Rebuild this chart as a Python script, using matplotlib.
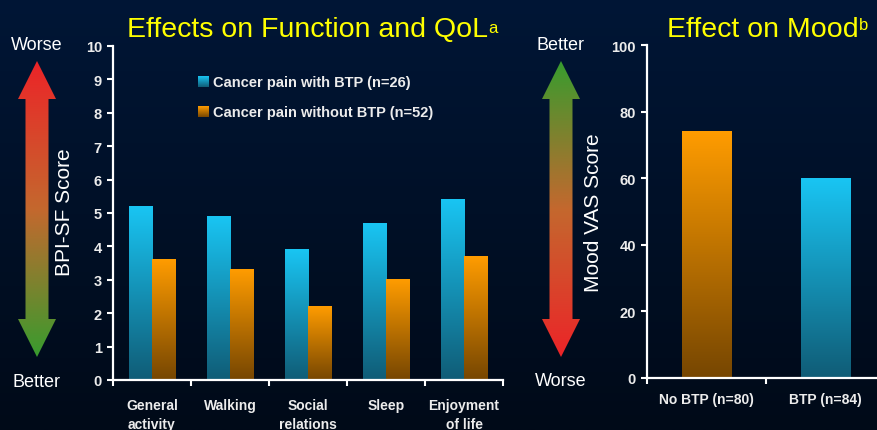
import numpy as np
import matplotlib
matplotlib.use("Agg")
import matplotlib.pyplot as plt
from matplotlib.patches import Polygon

plt.rcParams['font.family'] = ['Liberation Sans', 'DejaVu Sans']

# BPI-SF interference scores by domain
domains = ['General\nactivity', 'Walking', 'Social\nrelations', 'Sleep', 'Enjoyment\nof life']
with_btp = [5.2, 4.9, 3.9, 4.7, 5.4]
without_btp = [3.6, 3.3, 2.2, 3.0, 3.7]
legend_labels = ['Cancer pain with BTP (n=26)', 'Cancer pain without BTP (n=52)']

# Mood VAS scores
mood_groups = ['No BTP (n=80)', 'BTP (n=84)']
mood_scores = [74, 60]

CYAN_TOP = np.array([25, 197, 243]) / 255
CYAN_BOT = np.array([16, 92, 118]) / 255
ORANGE_TOP = np.array([255, 156, 0]) / 255
ORANGE_BOT = np.array([118, 70, 2]) / 255
TXT = '#ececec'

W, H = 878, 431
fig = plt.figure(figsize=(W / 100, H / 100), dpi=100)

# full-figure canvas in pixel units for background, arrows and free text
bg = fig.add_axes([0, 0, 1, 1])
bg.set_xlim(0, W)
bg.set_ylim(H, 0)
bg.axis('off')
top_c = np.array([0, 22, 54]) / 255
bot_c = np.array([0, 10, 24]) / 255
t = np.linspace(0, 1, 256)[:, None, None]
bg.imshow(top_c + (bot_c - top_c) * t, extent=(0, W, H, 0), aspect='auto', zorder=0)


def vgrad(c_top, c_bot, n=256):
    s = np.linspace(0, 1, n)[:, None, None]
    return c_top + (c_bot - c_top) * s


def three_stop(c0, c1, c2, n=256):
    s = np.linspace(0, 1, n)
    out = np.empty((n, 1, 3))
    for i, v in enumerate(s):
        if v < 0.5:
            out[i, 0] = c0 + (c1 - c0) * (v / 0.5)
        else:
            out[i, 0] = c1 + (c2 - c1) * ((v - 0.5) / 0.5)
    return out


def double_arrow(cx, y_top, y_bot, colors):
    hw, sw, hl = 19, 11.5, 38
    pts = [(cx, y_top), (cx + hw, y_top + hl), (cx + sw, y_top + hl),
           (cx + sw, y_bot - hl), (cx + hw, y_bot - hl), (cx, y_bot),
           (cx - hw, y_bot - hl), (cx - sw, y_bot - hl), (cx - sw, y_top + hl),
           (cx - hw, y_top + hl)]
    poly = Polygon(pts, closed=True, facecolor='none', edgecolor='none')
    bg.add_patch(poly)
    im = bg.imshow(colors, extent=(cx - hw, cx + hw, y_bot, y_top),
                   aspect='auto', zorder=1)
    im.set_clip_path(poly)


red = np.array([236, 36, 40]) / 255
mid = np.array([196, 104, 46]) / 255
green = np.array([56, 156, 46]) / 255

double_arrow(37, 62, 358, three_stop(red, mid, green))
double_arrow(561, 62, 358, three_stop(green, mid, red))

for x, y, s in [(37, 46, 'Worse'), (37, 383, 'Better'), (561, 46, 'Better'), (561, 382, 'Worse')]:
    bg.text(x, y, s, color='white', fontsize=13, ha='center', va='center')

bg.text(65, 212, 'BPI-SF Score', color='white', fontsize=15, rotation=90,
        ha='center', va='center')
bg.text(594, 213, 'Mood VAS Score', color='white', fontsize=15, rotation=90,
        ha='center', va='center')

t1 = bg.text(127, 37, 'Effects on Function and QoL', color='#ffff00',
             fontsize=20.5, ha='left', va='baseline')
bg.annotate('a', xy=(1, 1), xycoords=t1, xytext=(0, -3), textcoords='offset points',
            color='#ffff00', fontsize=12, ha='left', va='top')
t2 = bg.text(667, 37, 'Effect on Mood', color='#ffff00',
             fontsize=20.5, ha='left', va='baseline')
bg.annotate('b', xy=(1, 1), xycoords=t2, xytext=(0, -1), textcoords='offset points',
            color='#ffff00', fontsize=12, ha='left', va='top')


def style_axes(ax, yticks):
    ax.set_facecolor('none')
    for side in ['top', 'right']:
        ax.spines[side].set_visible(False)
    for side in ['left', 'bottom']:
        ax.spines[side].set_color('white')
        ax.spines[side].set_linewidth(1.6)
    ax.set_yticks(yticks)
    ax.set_yticklabels([str(v) for v in yticks], fontweight='bold')
    ax.tick_params(axis='both', which='major', colors='white', width=1.5,
                   length=4.5, direction='out')
    ax.tick_params(axis='y', labelcolor=TXT, labelsize=10.5, pad=3.5)
    ax.tick_params(axis='x', which='major', labelbottom=False)
    ax.tick_params(axis='x', which='minor', length=0, labelcolor=TXT,
                   labelsize=10, pad=13)


def gradient_bars(ax, bars, c_top, c_bot):
    for b in bars:
        x0, w, h = b.get_x(), b.get_width(), b.get_height()
        ax.imshow(vgrad(c_top, c_bot), extent=(x0, x0 + w, 0, h),
                  aspect='auto', zorder=2)
        b.set_visible(False)


# left panel: BPI-SF interference
ax1 = fig.add_axes([113 / W, 1 - 381 / H, 390 / W, 334 / H])
idx = np.arange(len(domains))
bw = 0.295
b_with = ax1.bar(idx + 0.5 - bw / 2, with_btp, bw)
b_without = ax1.bar(idx + 0.5 + bw / 2, without_btp, bw)
gradient_bars(ax1, b_with, CYAN_TOP, CYAN_BOT)
gradient_bars(ax1, b_without, ORANGE_TOP, ORANGE_BOT)
ax1.set_xticks(range(0, len(domains) + 1))
ax1.set_xticks(idx + 0.5, minor=True)
ax1.set_xticklabels(domains, minor=True, fontweight='bold', linespacing=1.45,
                    va='top')
style_axes(ax1, list(range(0, 11)))

# legend with gradient swatches
for row, (lab, ct, cb) in enumerate(zip(legend_labels, [CYAN_TOP, ORANGE_TOP],
                                       [CYAN_BOT, ORANGE_BOT])):
    y_hi = 0.907 - row * 0.09
    ax1.imshow(vgrad(ct, cb), extent=(0.218, 0.244, y_hi - 0.03, y_hi),
               transform=ax1.transAxes, aspect='auto', zorder=3)
    ax1.text(0.256, y_hi - 0.015, lab, transform=ax1.transAxes, color=TXT,
             fontsize=10.5, fontweight='bold', ha='left', va='center')
ax1.set_xlim(0, len(domains))
ax1.set_ylim(0, 10)

# right panel: mood
ax2 = fig.add_axes([647 / W, 1 - 379 / H, 238 / W, 333 / H])
midx = np.arange(len(mood_groups))
m_bars = ax2.bar(midx + 0.5, mood_scores, 0.42)
gradient_bars(ax2, [m_bars[0]], ORANGE_TOP, ORANGE_BOT)
gradient_bars(ax2, [m_bars[1]], CYAN_TOP, CYAN_BOT)
ax2.set_xticks(range(0, len(mood_groups) + 1))
ax2.set_xticks(midx + 0.5, minor=True)
ax2.set_xticklabels(mood_groups, minor=True, fontweight='bold', va='top')
style_axes(ax2, list(range(0, 101, 20)))
ax2.tick_params(axis='x', which='minor', pad=10)
ax2.set_xlim(0, len(mood_groups))
ax2.set_ylim(0, 100)

fig.savefig('out.png', dpi=100, facecolor=fig.get_facecolor())
